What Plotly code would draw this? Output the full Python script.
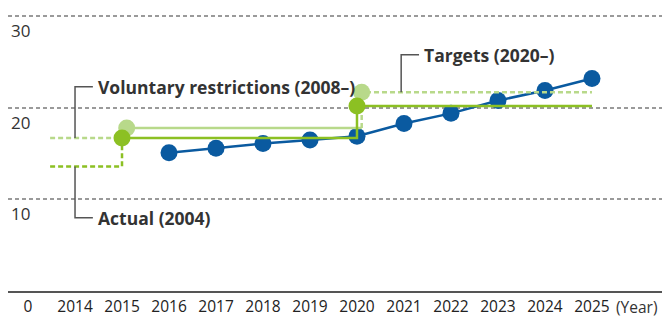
import plotly.graph_objects as go

# ---- data ----
years_actual = [2016, 2017, 2018, 2019, 2020, 2021, 2022, 2023, 2024, 2025]
values_actual = [15.1, 15.6, 16.1, 16.5, 16.9, 18.3, 19.4, 20.8, 21.9, 23.2]

actual_2004 = 13.6
voluntary_level = 16.7      # voluntary restrictions (dark)
voluntary_level_b = 17.8    # voluntary restrictions (light)
target_level = 20.2         # targets (dark)
target_level_b = 21.7       # targets (light)

x_start = 2013.47
step_years = [2015, 2020, 2025]

tick_years = [2013, 2014, 2015, 2016, 2017, 2018, 2019, 2020, 2021, 2022, 2023, 2024, 2025]
tick_text = ["0", "2014", "2015", "2016", "2017", "2018", "2019", "2020", "2021", "2022", "2023", "2024", "2025"]
y_ticks = [10, 20, 30]

labels = ["Voluntary restrictions (2008–)", "Actual (2004)", "Targets (2020–)"]

# ---- style ----
BLUE = "#0a5aa0"
GREEN = "#8cc023"
LIGHT = "#b8d98a"
GRAY = "#555555"
FONT = "Open Sans"
off = 0.1  # horizontal offset of light series markers

fig = go.Figure()

# blue series
fig.add_trace(go.Scatter(x=years_actual, y=values_actual, mode="lines+markers",
                         line=dict(color=BLUE, width=2.5),
                         marker=dict(color=BLUE, size=17), hoverinfo="skip"))

# light left dashed (voluntary)
fig.add_trace(go.Scatter(x=[x_start, step_years[0]], y=[voluntary_level, voluntary_level],
                         mode="lines", line=dict(color=LIGHT, width=2.5, dash="5px,3px")))
# light solid 2015-2020
fig.add_trace(go.Scatter(x=[step_years[0] + off, step_years[1] + off],
                         y=[voluntary_level_b, voluntary_level_b],
                         mode="lines", line=dict(color=LIGHT, width=2.5)))
# light dashed vertical + target
fig.add_trace(go.Scatter(x=[step_years[1] + off, step_years[1] + off, step_years[2]],
                         y=[voluntary_level_b, target_level_b, target_level_b],
                         mode="lines", line=dict(color=LIGHT, width=2.5, dash="5px,3px")))
# light markers
fig.add_trace(go.Scatter(x=[step_years[0] + off, step_years[1] + off],
                         y=[voluntary_level_b, target_level_b], mode="markers",
                         marker=dict(color=LIGHT, size=17)))

# actual 2004 dashed
fig.add_trace(go.Scatter(x=[x_start, step_years[0], step_years[0]],
                         y=[actual_2004, actual_2004, voluntary_level],
                         mode="lines", line=dict(color=GREEN, width=2.5, dash="5px,3px")))
# dark solid step
fig.add_trace(go.Scatter(x=[step_years[0], step_years[1], step_years[1], step_years[2]],
                         y=[voluntary_level, voluntary_level, target_level, target_level],
                         mode="lines", line=dict(color=GREEN, width=2.5)))
# dark markers
fig.add_trace(go.Scatter(x=[step_years[0], step_years[1]], y=[voluntary_level, target_level],
                         mode="markers", marker=dict(color=GREEN, size=17)))

# bracket connectors
bx, bx2 = 2014.0, 2014.38
tx, tx2 = 2020.94, 2021.32
lbl_vol_y, lbl_act_y, lbl_tgt_y = 22.3, 8.0, 25.8
for xs, ys in [([bx2, bx, bx], [lbl_vol_y, lbl_vol_y, voluntary_level]),
               ([bx, bx, bx2], [actual_2004, lbl_act_y, lbl_act_y]),
               ([tx, tx, tx2], [target_level_b, lbl_tgt_y, lbl_tgt_y])]:
    fig.add_trace(go.Scatter(x=xs, y=ys, mode="lines", line=dict(color=GRAY, width=1.5)))

for text, x, y in [(labels[0], 2014.44, lbl_vol_y), (labels[1], 2014.44, lbl_act_y),
                   (labels[2], 2021.38, lbl_tgt_y)]:
    fig.add_annotation(x=x, y=y, text="<b>" + text + "</b>", showarrow=False,
                       xanchor="left", yanchor="middle",
                       font=dict(family=FONT, size=17.5, color="#333333"))

for v in y_ticks:
    fig.add_annotation(x=0.002, xref="paper", y=v, text=str(v), showarrow=False,
                       xanchor="left", yanchor="top", yshift=-1,
                       font=dict(family=FONT, size=17, color="#333333"))

fig.add_annotation(x=2025.47, y=0, text="(Year)", showarrow=False, xanchor="left",
                   yanchor="top", yshift=-3, font=dict(family=FONT, size=15.5, color="#333333"))

fig.update_layout(
    width=662, height=317, showlegend=False,
    margin=dict(l=8, r=0, t=0, b=23),
    plot_bgcolor="white", paper_bgcolor="white",
    xaxis=dict(range=[2012.574, 2026.49], tickvals=tick_years, ticktext=tick_text,
               showgrid=False, zeroline=False, showline=True, linecolor="#555555",
               linewidth=2, ticks="", ticklen=0,
               tickfont=dict(family=FONT, size=15.5, color="#222222")),
    yaxis=dict(range=[0, 31.78], tickvals=y_ticks, showticklabels=False,
               showgrid=True, gridcolor="#9a9a9a", gridwidth=1.5, griddash="4px,3px",
               zeroline=False, showline=False),
)

fig.write_html("out.html", config={"displayModeBar": False},
               post_script="document.body.style.margin='0';")
